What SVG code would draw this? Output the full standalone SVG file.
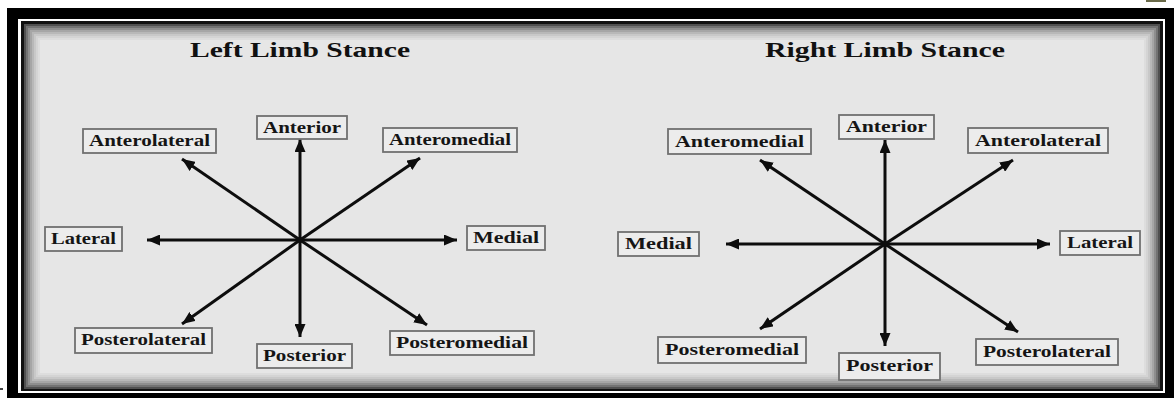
<svg xmlns="http://www.w3.org/2000/svg" width="1174" height="398" viewBox="0 0 1174 398">
<style>
.box{fill:#ececec;stroke:#707070;stroke-width:1.8}
.lbl{font-family:"Liberation Serif","Times New Roman",serif;font-weight:bold;font-size:16px;fill:#151515;text-anchor:start}
.ttl{font-family:"Liberation Serif","Times New Roman",serif;font-weight:bold;font-size:22px;fill:#111}
.arr{stroke:#0d0d0d;stroke-width:3;fill:none;marker-end:url(#ah)}
.sh{fill:none;stroke:#000;stroke-width:2}
</style>
<defs>
<marker id="ah" markerUnits="userSpaceOnUse" markerWidth="13" markerHeight="11" refX="13" refY="5.5" orient="auto">
<path d="M0,0 L13,5.5 L0,11 z" fill="#0d0d0d"/>
</marker>
</defs>
<g id="frame">
<rect x="0" y="0" width="1174" height="398" fill="#fff"/>
<rect x="7" y="8" width="1167" height="390" fill="#000"/>
<rect x="18" y="19" width="1147" height="374" fill="#fff"/>
<rect x="21" y="21" width="1142" height="370" fill="#111"/>
<rect x="24" y="24" width="1136" height="365" fill="#e6e6e6"/>
<rect class="sh" x="25" y="25" width="1134" height="363" stroke-opacity="0.65"/>
<rect class="sh" x="27" y="27" width="1130" height="359" stroke-opacity="0.5"/>
<rect class="sh" x="29" y="29" width="1126" height="355" stroke-opacity="0.38"/>
<rect class="sh" x="31" y="31" width="1122" height="351" stroke-opacity="0.28"/>
<rect class="sh" x="33" y="33" width="1118" height="347" stroke-opacity="0.2"/>
<rect class="sh" x="35" y="35" width="1114" height="343" stroke-opacity="0.13"/>
<rect class="sh" x="37" y="37" width="1110" height="339" stroke-opacity="0.08"/>
<rect class="sh" x="39" y="39" width="1106" height="335" stroke-opacity="0.04"/>
<rect x="1146" y="0" width="20" height="2" fill="#6b6b4a"/>
<rect x="0" y="388" width="3" height="2" fill="#444"/>
</g>
<g id="titles">
<text class="ttl" x="190" y="57" textLength="220" lengthAdjust="spacingAndGlyphs">Left Limb Stance</text>
<text class="ttl" x="765" y="57" textLength="240" lengthAdjust="spacingAndGlyphs">Right Limb Stance</text>
</g>
<g id="connectors">
<line class="arr" x1="300" y1="240" x2="300" y2="139"/>
<line class="arr" x1="300" y1="240" x2="300" y2="337"/>
<line class="arr" x1="300" y1="240" x2="147" y2="240"/>
<line class="arr" x1="300" y1="240" x2="457" y2="240"/>
<line class="arr" x1="300" y1="240" x2="182" y2="159"/>
<line class="arr" x1="300" y1="240" x2="420" y2="158"/>
<line class="arr" x1="300" y1="240" x2="182" y2="324"/>
<line class="arr" x1="300" y1="240" x2="427" y2="325"/>
<circle cx="300" cy="240" r="3" fill="#0d0d0d"/>
<line class="arr" x1="885" y1="244" x2="885" y2="140"/>
<line class="arr" x1="885" y1="244" x2="885" y2="346"/>
<line class="arr" x1="885" y1="244" x2="726" y2="244"/>
<line class="arr" x1="885" y1="244" x2="1050" y2="244"/>
<line class="arr" x1="885" y1="244" x2="760" y2="160"/>
<line class="arr" x1="885" y1="244" x2="1013" y2="160"/>
<line class="arr" x1="885" y1="244" x2="760" y2="329"/>
<line class="arr" x1="885" y1="244" x2="1018" y2="332"/>
<circle cx="885" cy="244" r="3" fill="#0d0d0d"/>
</g>
<g id="L-anterior"><rect class="box" x="257" y="116" width="90" height="23"/><text class="lbl" x="263" y="133" textLength="78" lengthAdjust="spacingAndGlyphs">Anterior</text></g>
<g id="L-anterolateral"><rect class="box" x="83" y="129" width="133" height="24"/><text class="lbl" x="89" y="146" textLength="121" lengthAdjust="spacingAndGlyphs">Anterolateral</text></g>
<g id="L-anteromedial"><rect class="box" x="383" y="128" width="134" height="24"/><text class="lbl" x="389" y="145" textLength="122" lengthAdjust="spacingAndGlyphs">Anteromedial</text></g>
<g id="L-lateral"><rect class="box" x="45" y="227" width="77" height="24"/><text class="lbl" x="51" y="244" textLength="65" lengthAdjust="spacingAndGlyphs">Lateral</text></g>
<g id="L-medial"><rect class="box" x="467" y="226" width="78" height="24"/><text class="lbl" x="473" y="243" textLength="66" lengthAdjust="spacingAndGlyphs">Medial</text></g>
<g id="L-posterolateral"><rect class="box" x="75" y="328" width="137" height="25"/><text class="lbl" x="81" y="345" textLength="125" lengthAdjust="spacingAndGlyphs">Posterolateral</text></g>
<g id="L-posterior"><rect class="box" x="257" y="344" width="95" height="24"/><text class="lbl" x="263" y="361" textLength="83" lengthAdjust="spacingAndGlyphs">Posterior</text></g>
<g id="L-posteromedial"><rect class="box" x="390" y="331" width="144" height="24"/><text class="lbl" x="396" y="348" textLength="132" lengthAdjust="spacingAndGlyphs">Posteromedial</text></g>
<g id="R-anterior"><rect class="box" x="839" y="115" width="95" height="24"/><text class="lbl" x="846" y="132" textLength="81" lengthAdjust="spacingAndGlyphs">Anterior</text></g>
<g id="R-anteromedial"><rect class="box" x="668" y="129" width="143" height="25"/><text class="lbl" x="675" y="147" textLength="129" lengthAdjust="spacingAndGlyphs">Anteromedial</text></g>
<g id="R-anterolateral"><rect class="box" x="968" y="128" width="140" height="25"/><text class="lbl" x="975" y="146" textLength="126" lengthAdjust="spacingAndGlyphs">Anterolateral</text></g>
<g id="R-medial"><rect class="box" x="618" y="232" width="81" height="24"/><text class="lbl" x="625" y="249" textLength="67" lengthAdjust="spacingAndGlyphs">Medial</text></g>
<g id="R-lateral"><rect class="box" x="1060" y="231" width="80" height="24"/><text class="lbl" x="1067" y="248" textLength="66" lengthAdjust="spacingAndGlyphs">Lateral</text></g>
<g id="R-posteromedial"><rect class="box" x="658" y="337" width="148" height="26"/><text class="lbl" x="665" y="355" textLength="134" lengthAdjust="spacingAndGlyphs">Posteromedial</text></g>
<g id="R-posterior"><rect class="box" x="839" y="353" width="101" height="27"/><text class="lbl" x="846" y="371" textLength="87" lengthAdjust="spacingAndGlyphs">Posterior</text></g>
<g id="R-posterolateral"><rect class="box" x="976" y="339" width="142" height="26"/><text class="lbl" x="983" y="357" textLength="128" lengthAdjust="spacingAndGlyphs">Posterolateral</text></g>
</svg>
